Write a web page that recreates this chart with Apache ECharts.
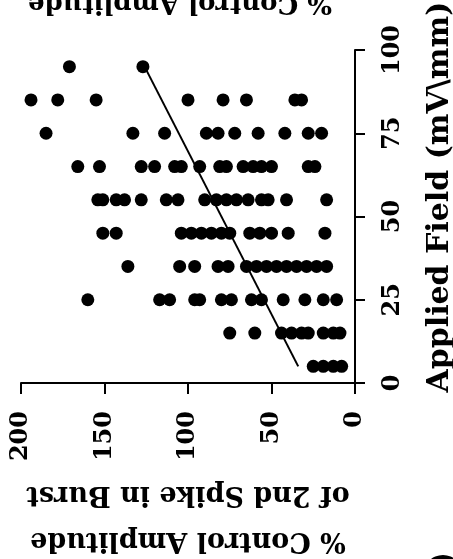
<!DOCTYPE html>
<html>
<head>
  <meta charset="UTF-8">
  <title>scatter</title>
  <script src="https://cdn.jsdelivr.net/npm/echarts@6/dist/echarts.min.js"></script>
  <style>
    * { padding: 0; margin: 0; }
    #main { width: 453px; height: 559px; }
  </style>
</head>
<body>
  <div id="main"></div>
  <script>
    // applied field rows (mV/mm) and the % amplitudes read for each row
    var fields = [95, 85, 75, 65, 55, 45, 35, 25, 15, 5];
    var amps = [
      [171, 127],
      [194, 178, 155, 100, 79, 65, 36, 32],
      [185, 133, 114, 89, 82, 72, 58, 42, 28, 20],
      [166, 153, 128, 120, 108, 104, 93, 81, 77, 67, 61, 56, 50, 28, 24],
      [154, 151, 143, 138, 128, 113, 106, 90, 83, 77, 71, 64, 56, 52, 41, 17],
      [151, 143, 104, 98, 92, 86, 80, 75, 63, 57, 50, 40, 18],
      [136, 105, 96, 82, 76, 65, 59, 53, 47, 41, 35, 29, 23, 17],
      [160, 117, 111, 96, 93, 80, 74, 62, 56, 43, 30, 19, 11],
      [75, 60, 44, 38, 32, 28, 19, 13, 9],
      [25, 19, 13, 8]
    ];
    // regression line end points
    var lineAmp = [34, 126];
    var lineField = [5, 95];

    var xTicks = [0, 50, 100, 150, 200];
    var yTicks = [0, 25, 50, 75, 100];

    var pts = [];
    fields.forEach(function (f, i) {
      amps[i].forEach(function (a) { pts.push([a, f]); });
    });
    var linePts = lineAmp.map(function (a, i) { return [a, lineField[i]]; });

    var font = 'DejaVu Serif';
    var myChart = echarts.init(document.getElementById('main'));
    var option = {
      animation: false,
      grid: { left: 21, right: 98, top: 50, bottom: 176, containLabel: false, outerBoundsMode: 'none' },
      xAxis: {
        type: 'value', min: 0, max: 200, interval: 50, inverse: true,
        axisLine: { lineStyle: { color: '#000', width: 2 } },
        axisTick: { length: 11, lineStyle: { color: '#000', width: 2 } },
        splitLine: { show: false },
        axisLabel: {
          rotate: 90, margin: 28, color: '#000',
          fontFamily: font, fontWeight: 'bold', fontSize: 24,
          formatter: function (v) { return xTicks.indexOf(v) >= 0 ? v : ''; }
        },
        name: '% Control Amplitude\nof 2nd Spike in Burst',
        nameLocation: 'middle', nameRotate: 180, nameGap: 88,
        nameTextStyle: { color: '#000', fontFamily: font, fontWeight: 'bold', fontSize: 27, lineHeight: 46 }
      },
      yAxis: {
        type: 'value', min: 0, max: 100, interval: 25, position: 'right',
        axisLine: { lineStyle: { color: '#000', width: 2 } },
        axisTick: { length: 10, lineStyle: { color: '#000', width: 2 } },
        splitLine: { show: false },
        axisLabel: {
          rotate: 90, margin: 26, color: '#000',
          fontFamily: font, fontWeight: 'bold', fontSize: 24,
          formatter: function (v) { return yTicks.indexOf(v) >= 0 ? v : ''; }
        },
        name: 'Applied Field (mV\\mm)',
        nameLocation: 'middle', nameRotate: 90, nameGap: 70,
        nameTextStyle: {
          color: '#000', fontFamily: font, fontWeight: 'bold', fontSize: 30,
          padding: [0, 0, 0, 39]
        }
      },
      graphic: [{
        type: 'text', x: 180, y: 3, rotation: Math.PI,
        style: {
          text: '% Control Amplitude', fill: '#000',
          font: 'bold 26px "DejaVu Serif"', textAlign: 'center', textVerticalAlign: 'middle'
        }
      }, {
        type: 'circle', shape: { cx: 443, cy: 575, r: 20 },
        style: { fill: '#000' }
      }],
      series: [
        {
          type: 'scatter', data: pts, symbolSize: 13,
          itemStyle: { color: '#000', opacity: 1 }
        },
        {
          type: 'line', data: linePts, symbol: 'none',
          lineStyle: { color: '#000', width: 2 }
        }
      ]
    };
    option && myChart.setOption(option);
  </script>
</body>
</html>
